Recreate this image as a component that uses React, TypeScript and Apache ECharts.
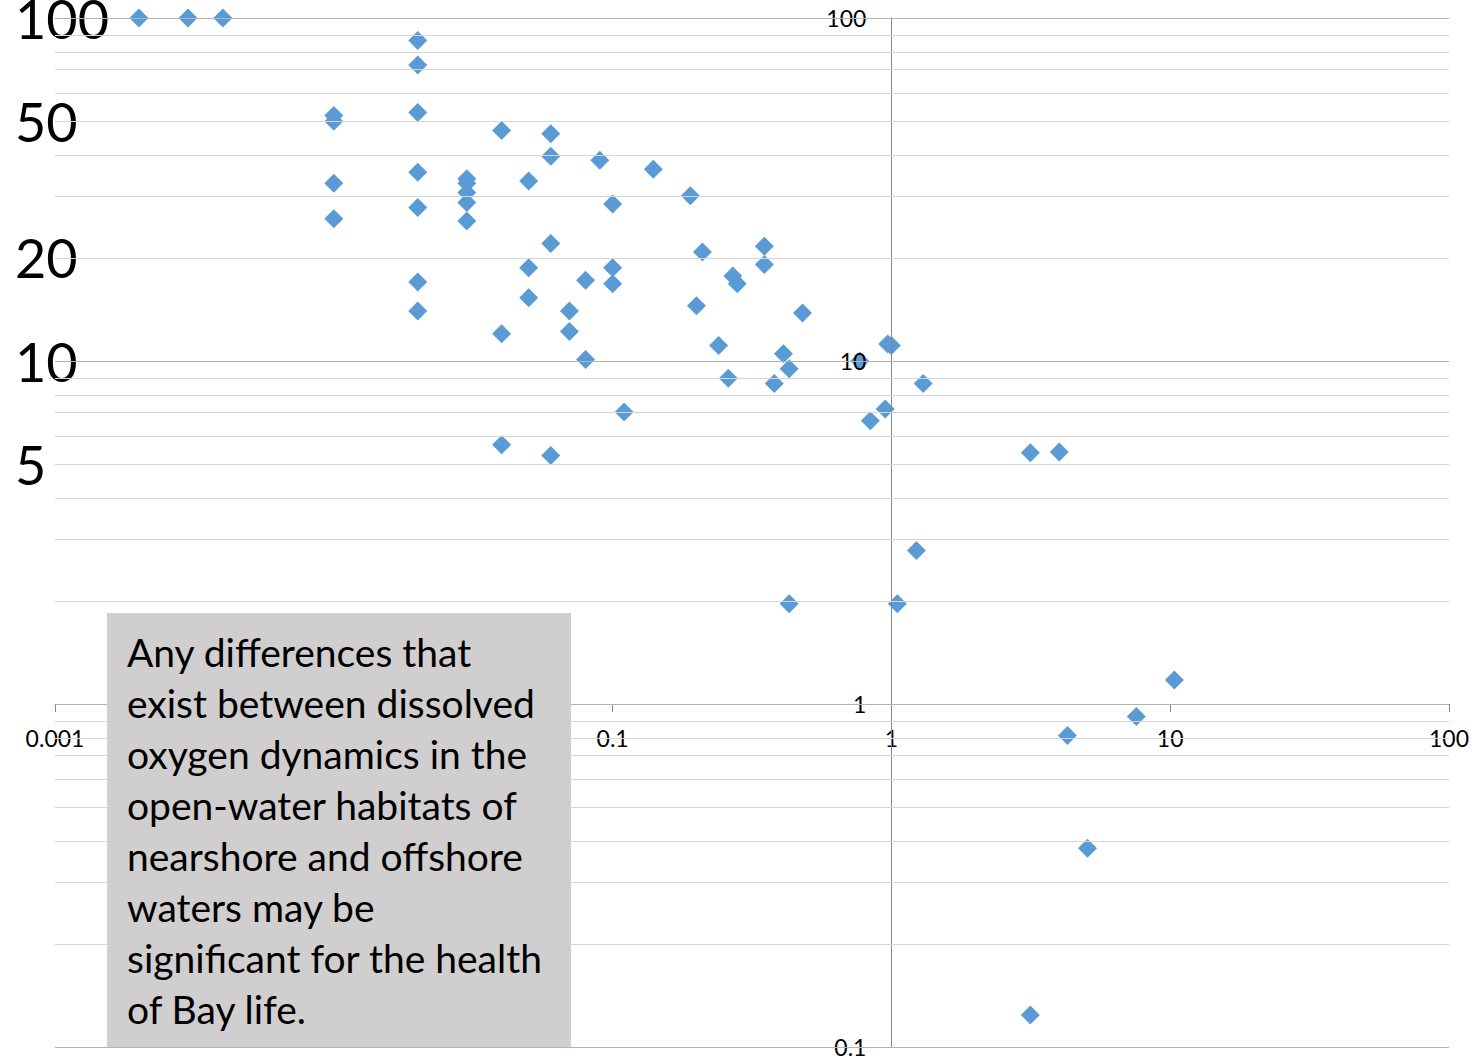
import React, { useEffect, useRef } from "react";
import * as echarts from "echarts";

// Measured pairs (x, y), both on log scales
const xValues = [
  0.002, 0.003, 0.004,
  0.01, 0.01, 0.01, 0.01,
  0.02, 0.02, 0.02, 0.02, 0.02, 0.02, 0.02,
  0.03, 0.03, 0.03, 0.03, 0.03,
  0.04, 0.04, 0.04,
  0.05, 0.05, 0.05,
  0.06, 0.06, 0.06, 0.06,
  0.07, 0.07,
  0.08, 0.08,
  0.09,
  0.1, 0.1, 0.1,
  0.11, 0.14, 0.19, 0.2, 0.21, 0.24, 0.26, 0.27, 0.28,
  0.35, 0.35, 0.38, 0.41, 0.43, 0.43, 0.48,
  0.77, 0.84, 0.95, 0.97, 1.0, 1.05, 1.23, 1.3,
  3.15, 4.0, 4.28, 5.05, 3.15, 7.56, 10.35,
];
const yValues = [
  100, 100, 100,
  52, 50, 33, 26,
  86, 73, 53, 35.5, 28, 17, 14,
  34, 33, 31, 29, 25.6,
  47, 12, 5.7,
  33.5, 18.7, 15.3,
  46, 39.5, 22, 5.3,
  14, 12.2,
  17.2, 10.1,
  38.5,
  28.7, 18.7, 16.8,
  7.1, 36.2, 30.3, 14.5, 20.8, 11.1, 8.9, 17.7, 16.8,
  21.6, 19.1, 8.6, 10.5, 9.5, 1.96, 13.8,
  10, 6.7, 7.25, 11.2, 11.1, 1.96, 2.8, 8.6,
  5.4, 5.43, 0.81, 0.38, 0.124, 0.92, 1.175,
];

const xTickLabels = ["0.001", "0.01", "0.1", "1", "10", "100"];
const yTickLabels = ["0.1", "1", "10", "100"];
const bigLabels = [5, 10, 20, 50, 100];

// Horizontal grid lines: every 1..9 step of each decade
const gridDecades = [0.1, 1, 10];
const gridSteps = [1, 2, 3, 4, 5, 6, 7, 8, 9];

const noteLines = [
  "Any differences that",
  "exist between dissolved",
  "oxygen dynamics in the",
  "open-water habitats of",
  "nearshore and offshore",
  "waters may be",
  "significant for the health",
  "of Bay life.",
];

// Axis extents in decades (log10 space)
const X_MIN = -3;
const X_MAX = 2;
const Y_MIN = -1;
const Y_MAX = 2;

const WIDTH = 1475;
const HEIGHT = 1058;
const GRID = { left: 55, right: 26, top: 18, bottom: 11 };

export default function App() {
  const ref = useRef<HTMLDivElement>(null);

  useEffect(() => {
    if (!ref.current) return;
    const chart = echarts.init(ref.current, null, { renderer: "svg" });

    const points = xValues.map((x, i) => [Math.log10(x), Math.log10(yValues[i])]);

    const gridLines: { v: number; major: boolean }[] = [];
    gridDecades.forEach((d) =>
      gridSteps.forEach((s) => gridLines.push({ v: d * s, major: s === 1 }))
    );
    gridLines.push({ v: 100, major: true });

    // Axes cross each other at value 1 (log10 = 0)
    const plotW = WIDTH - GRID.left - GRID.right;
    const plotH = HEIGHT - GRID.top - GRID.bottom;
    const xAxisOffset = -plotH * ((0 - Y_MIN) / (Y_MAX - Y_MIN));
    const yAxisOffset = -plotW * ((0 - X_MIN) / (X_MAX - X_MIN));

    const axisColor = "#868686";

    chart.setOption({
      animation: false,
      grid: {
        ...GRID,
        containLabel: false,
        outerBoundsMode: "none",
      },
      xAxis: {
        type: "value",
        position: "bottom",
        offset: xAxisOffset,
        min: X_MIN,
        max: X_MAX,
        interval: 1,
        axisLine: { onZero: false, lineStyle: { color: axisColor, width: 1 } },
        axisTick: { show: true, length: 8, lineStyle: { color: axisColor } },
        axisLabel: {
          margin: 22,
          fontSize: 23,
          fontFamily: "Lato",
          color: "#000",
          formatter: (v: number) => xTickLabels[Math.round(v) - X_MIN] ?? "",
        },
        splitLine: { show: false },
      },
      yAxis: [
        {
          type: "value",
          position: "left",
          offset: yAxisOffset,
          min: Y_MIN,
          max: Y_MAX,
          interval: 1,
          axisLine: { show: true, onZero: false, lineStyle: { color: axisColor, width: 1 } },
          axisTick: { show: true, length: 8, lineStyle: { color: axisColor } },
          axisLabel: {
            margin: 25,
            fontSize: 23,
            fontFamily: "Lato",
            color: "#000",
            formatter: (v: number) => yTickLabels[Math.round(v) - Y_MIN] ?? "",
          },
          splitLine: { show: false },
          z: 4,
        },
        {
          type: "value",
          position: "left",
          offset: 0,
          min: Y_MIN,
          max: Y_MAX,
          axisLine: { show: false, onZero: false },
          axisTick: { show: false },
          splitLine: { show: false },
          axisLabel: {
            customValues: bigLabels.map((v) => Math.log10(v)),
            formatter: (v: number) => String(Math.round(Math.pow(10, v))),
            fontSize: 54,
            fontFamily: "Lato",
            color: "#000",
            align: "left",
            margin: 40,
          },
        },
      ],
      series: [
        {
          type: "line",
          data: [],
          xAxisIndex: 0,
          yAxisIndex: 0,
          silent: true,
          z: 1,
          markLine: {
            silent: true,
            animation: false,
            symbol: ["none", "none"],
            label: { show: false },
            data: gridLines.map((g) => ({
              yAxis: Math.log10(g.v),
              lineStyle: { color: g.major ? "#b3b3b3" : "#d6d6d6", width: 1, type: "solid" },
            })),
          },
        },
        {
          type: "scatter",
          xAxisIndex: 0,
          yAxisIndex: 0,
          symbol: "diamond",
          symbolSize: 19,
          z: 3,
          itemStyle: { color: "#5b9bd5", opacity: 1 },
          data: points,
        },
      ],
      graphic: [
        {
          type: "rect",
          z: 100,
          shape: { x: 107, y: 613, width: 464, height: 434 },
          style: { fill: "#d0cece" },
        },
        {
          type: "text",
          z: 101,
          x: 127,
          y: 626,
          style: {
            text: noteLines.join("\n"),
            fontSize: 39,
            fontFamily: "Lato",
            lineHeight: 51,
            fill: "#000",
            align: "left",
            verticalAlign: "top",
          },
        },
      ],
    });

    return () => chart.dispose();
  }, []);

  return (
    <div
      ref={ref}
      style={{ position: "fixed", left: 0, top: 0, width: WIDTH, height: HEIGHT, background: "#fff" }}
    />
  );
}
